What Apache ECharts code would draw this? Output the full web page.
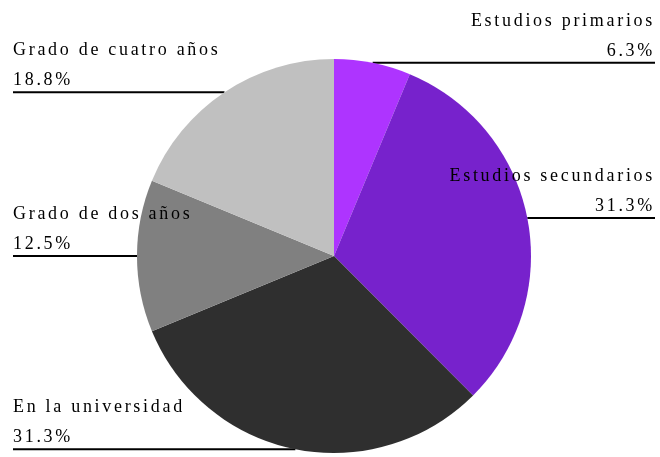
<!DOCTYPE html>
<html>
<head>
<meta charset="utf-8">
<script src="https://cdn.jsdelivr.net/npm/echarts@6/dist/echarts.min.js"></script>
<style>
  html, body { margin: 0; padding: 0; background: #fff; }
  #pie { width: 660px; height: 457px; }
</style>
</head>
<body>
<div id="pie"></div>
<script>
const categories = ['Estudios primarios', 'Estudios secundarios', 'En la universidad', 'Grado de dos años', 'Grado de cuatro años'];
const percents = [6.3, 31.3, 31.3, 12.5, 18.8];
const colors = ['#ae34ff', '#7722cc', '#2f2f2f', '#808080', '#c0c0c0'];

const cx = 334, cy = 256;
const leftEdge = 13, rightEdge = 655;

const chart = echarts.init(document.getElementById('pie'));

const option = {
    backgroundColor: '#fff',
    animation: false,
    series: [{
        type: 'pie',
        center: [cx, cy],
        radius: 197,
        startAngle: 90,
        clockwise: true,
        avoidLabelOverlap: false,
        itemStyle: { borderWidth: 0 },
        emphasis: { disabled: true },
        label: {
            show: true,
            color: '#000',
            fontFamily: 'Liberation Serif',
            fontSize: 18,
            lineHeight: 30,
            formatter: '{b}\n{c}%'
        },
        labelLine: {
            show: true,
            length: 0,
            length2: 0,
            smooth: false,
            lineStyle: { color: '#000', width: 2 }
        },
        labelLayout: function (params) {
            const p0 = params.labelLinePoints[0];
            const isLeft = p0[0] < cx;
            const edgeX = isLeft ? leftEdge : rightEdge;
            return {
                x: edgeX,
                y: p0[1] + 3,
                align: isLeft ? 'left' : 'right',
                verticalAlign: 'bottom',
                labelLinePoints: [[p0[0], p0[1]], [p0[0], p0[1]], [edgeX, p0[1]]]
            };
        },
        data: categories.map((name, i) => ({
            name: name,
            value: percents[i],
            itemStyle: { color: colors[i] }
        }))
    }]
};

chart.setOption(option);

// the original export has wide letter spacing
document.querySelectorAll('#pie canvas').forEach(c => {
    c.getContext('2d').letterSpacing = '2.7px';
});
chart.getZr().painter.refresh(true);

window.onresize = () => {
    chart.resize();
};
</script>
</body>
</html>
